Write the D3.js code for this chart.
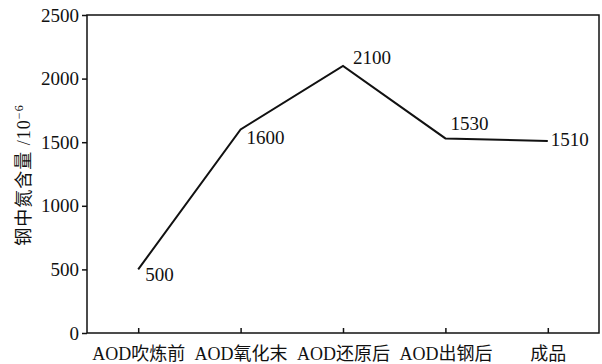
<!DOCTYPE html>
<html>
<head>
<meta charset="utf-8">
<script src="https://cdn.jsdelivr.net/npm/d3@7"></script>
<style>
  body { margin: 0; background: #fff; }
  text { font-family: "Liberation Serif", "Noto Sans CJK SC", serif; fill: #111; }
</style>
</head>
<body>
<div id="chart"></div>
<script>
// data
var stages = ["AOD吹炼前", "AOD氧化末", "AOD还原后", "AOD出钢后", "成品"];
var nitrogen = [500, 1600, 2100, 1530, 1510];
var yTicks = [0, 500, 1000, 1500, 2000, 2500];

var svgWidth = 602;
var svgHeight = 364;
var margin = { top: 15, right: 3, bottom: 31, left: 87 };
var width = svgWidth - margin.left - margin.right;
var height = svgHeight - margin.top - margin.bottom;

var svg = d3.select("#chart").append("svg")
  .attr("width", svgWidth)
  .attr("height", svgHeight);

var chartGroup = svg.append("g")
  .attr("transform", `translate(${margin.left}, ${margin.top})`);

// scales
var xScale = d3.scalePoint()
  .domain(stages)
  .range([0, width])
  .padding(0.5);

var yScale = d3.scaleLinear()
  .domain([0, 2500])
  .range([height, 0]);

// frame
chartGroup.append("rect")
  .attr("width", width)
  .attr("height", height)
  .attr("fill", "none")
  .attr("stroke", "#111")
  .attr("stroke-width", 1.5);

// axes
var leftAxis = d3.axisLeft(yScale)
  .tickValues(yTicks)
  .tickFormat(d3.format("d"))
  .tickSize(5)
  .tickPadding(3);
var bottomAxis = d3.axisBottom(xScale).tickSize(-5).tickPadding(14);

var yAxis = chartGroup.append("g").call(leftAxis);
var xAxis = chartGroup.append("g")
  .attr("transform", `translate(0, ${height})`)
  .call(bottomAxis);

[xAxis, yAxis].forEach(function(ax) {
  ax.attr("font-family", null).attr("font-size", null);
  ax.select(".domain").remove();
  ax.selectAll(".tick line").attr("stroke", "#111").attr("stroke-width", 1.5);
  ax.selectAll(".tick text").attr("fill", "#111");
});
yAxis.selectAll(".tick text").attr("font-size", "19px");
xAxis.selectAll(".tick text").attr("font-size", "18px");

// line
var line = d3.line()
  .x((d, i) => xScale(stages[i]))
  .y(d => yScale(d));

chartGroup.append("path")
  .datum(nitrogen)
  .attr("d", line)
  .attr("fill", "none")
  .attr("stroke", "#111")
  .attr("stroke-width", 2);

// value labels
var labelOffsets = [[7, 12], [6, 15], [10, -2], [5, -8], [3, 5]];
chartGroup.selectAll(".valueText")
  .data(nitrogen)
  .enter()
  .append("text")
  .attr("class", "valueText")
  .attr("x", (d, i) => xScale(stages[i]) + labelOffsets[i][0])
  .attr("y", (d, i) => yScale(d) + labelOffsets[i][1])
  .attr("font-size", "19px")
  .text(d => d);

// y axis label
var yLabel = svg.append("text")
  .attr("transform", "translate(30, 175) rotate(-90)")
  .attr("text-anchor", "middle")
  .attr("font-size", "18px")
  .attr("letter-spacing", "1px");
yLabel.append("tspan").text("钢中氮含量 /10");
yLabel.append("tspan").attr("dy", -7).attr("font-size", "12px").text("−6");
</script>
</body>
</html>
